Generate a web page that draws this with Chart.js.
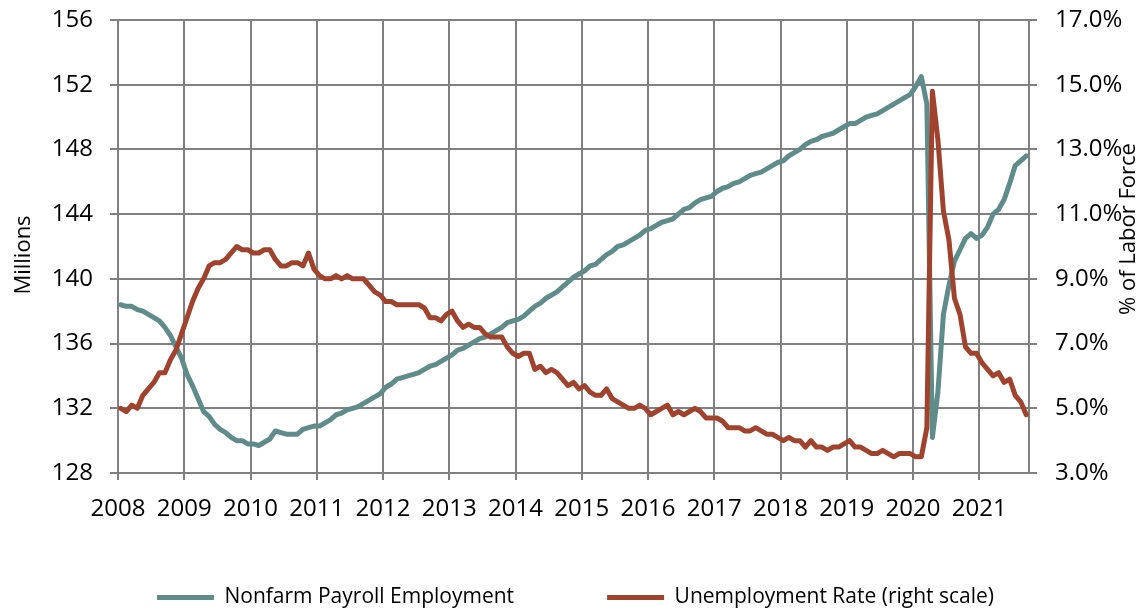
<!DOCTYPE html>
<html>
<head>
<meta charset="utf-8">
<script src="https://cdn.jsdelivr.net/npm/chart.js@4.4.1/dist/chart.umd.min.js"></script>
<style>
  html, body { margin: 0; padding: 0; background: #fff; }
  #chart { display: block; }
</style>
</head>
<body>
<canvas id="chart" width="1141" height="611"></canvas>
<script>
// monthly, Jan 2008 - Sep 2021
const startYear = 2008;

const yearTicks = [2008, 2009, 2010, 2011, 2012, 2013, 2014, 2015, 2016, 2017, 2018, 2019, 2020, 2021];

// Nonfarm payroll employment, millions
const payroll = [
    138.4, 138.3, 138.3, 138.1, 138.0, 137.8, 137.6, 137.4, 137.0, 136.5, 135.8, 135.1,
    134.1, 133.4, 132.6, 131.8, 131.5, 131.0, 130.7, 130.5, 130.2, 130.0, 130.0, 129.8,
    129.8, 129.7, 129.9, 130.1, 130.6, 130.5, 130.4, 130.4, 130.4, 130.7, 130.8, 130.9,
    130.9, 131.1, 131.3, 131.6, 131.7, 131.9, 132.0, 132.1, 132.3, 132.5, 132.7, 132.9,
    133.3, 133.5, 133.8, 133.9, 134.0, 134.1, 134.2, 134.4, 134.6, 134.7, 134.9, 135.1,
    135.3, 135.6, 135.7, 135.9, 136.1, 136.3, 136.4, 136.6, 136.8, 137.0, 137.3, 137.4,
    137.5, 137.7, 138.0, 138.3, 138.5, 138.8, 139.0, 139.2, 139.5, 139.8, 140.1, 140.3,
    140.5, 140.8, 140.9, 141.2, 141.5, 141.7, 142.0, 142.1, 142.3, 142.5, 142.7, 143.0,
    143.1, 143.3, 143.5, 143.6, 143.7, 144.0, 144.3, 144.4, 144.7, 144.9, 145.0, 145.1,
    145.4, 145.6, 145.7, 145.9, 146.0, 146.2, 146.4, 146.5, 146.6, 146.8, 147.0, 147.2,
    147.3, 147.6, 147.8, 148.0, 148.3, 148.5, 148.6, 148.8, 148.9, 149.0, 149.2, 149.4,
    149.6, 149.6, 149.8, 150.0, 150.1, 150.2, 150.4, 150.6, 150.8, 151.0, 151.2, 151.4,
    151.9, 152.5, 150.8, 130.2, 133.0, 137.8, 139.6, 141.1, 141.8, 142.5, 142.8, 142.5,
    142.7, 143.2, 144.0, 144.3, 144.9, 145.9, 147.0, 147.3, 147.6
];

// Unemployment rate, % of labor force
const unemployment = [
    5.0, 4.9, 5.1, 5.0, 5.4, 5.6, 5.8, 6.1, 6.1, 6.5, 6.8, 7.3,
    7.8, 8.3, 8.7, 9.0, 9.4, 9.5, 9.5, 9.6, 9.8, 10.0, 9.9, 9.9,
    9.8, 9.8, 9.9, 9.9, 9.6, 9.4, 9.4, 9.5, 9.5, 9.4, 9.8, 9.3,
    9.1, 9.0, 9.0, 9.1, 9.0, 9.1, 9.0, 9.0, 9.0, 8.8, 8.6, 8.5,
    8.3, 8.3, 8.2, 8.2, 8.2, 8.2, 8.2, 8.1, 7.8, 7.8, 7.7, 7.9,
    8.0, 7.7, 7.5, 7.6, 7.5, 7.5, 7.3, 7.2, 7.2, 7.2, 6.9, 6.7,
    6.6, 6.7, 6.7, 6.2, 6.3, 6.1, 6.2, 6.1, 5.9, 5.7, 5.8, 5.6,
    5.7, 5.5, 5.4, 5.4, 5.6, 5.3, 5.2, 5.1, 5.0, 5.0, 5.1, 5.0,
    4.8, 4.9, 5.0, 5.1, 4.8, 4.9, 4.8, 4.9, 5.0, 4.9, 4.7, 4.7,
    4.7, 4.6, 4.4, 4.4, 4.4, 4.3, 4.3, 4.4, 4.3, 4.2, 4.2, 4.1,
    4.0, 4.1, 4.0, 4.0, 3.8, 4.0, 3.8, 3.8, 3.7, 3.8, 3.8, 3.9,
    4.0, 3.8, 3.8, 3.7, 3.6, 3.6, 3.7, 3.6, 3.5, 3.6, 3.6, 3.6,
    3.5, 3.5, 4.4, 14.8, 13.3, 11.1, 10.2, 8.4, 7.9, 6.9, 6.7, 6.7,
    6.4, 6.2, 6.0, 6.1, 5.8, 5.9, 5.4, 5.2, 4.8
];

const seriesNames = ['Nonfarm Payroll Employment', 'Unemployment Rate (right scale)'];
const axisTitles = ['Millions', '% of Labor Force'];

const tealColor = '#5F8C89';
const redColor = '#A0432E';
const gridColor = '#808080';
const fontFamily = "'Open Sans', 'Liberation Sans', sans-serif";

const legendGap = 93;

// each month sits in the middle of its slot
const toPoints = arr => arr.map((v, i) => ({ x: startYear + (i + 0.5) / 12, y: v }));

// both axis titles read bottom-to-top
const axisTitlePlugin = {
    id: 'axisTitles',
    afterDraw(chart) {
        const ctx = chart.ctx;
        const put = (text, x, y) => {
            ctx.save();
            ctx.translate(x, y);
            ctx.rotate(-Math.PI / 2);
            ctx.font = '22px ' + fontFamily;
            ctx.fillStyle = '#000';
            ctx.textAlign = 'center';
            ctx.textBaseline = 'middle';
            ctx.fillText(text, 0, 0);
            ctx.restore();
        };
        put(axisTitles[0], 24, 255);
        put(axisTitles[1], 1129, 229);
    }
};

// wide gap between legend items but not a tall legend box:
// keep the box short, then pull its top up so the row lands near the bottom
const legendHeight = {
    id: 'legendHeight',
    beforeInit(chart) {
        const fit = chart.legend.fit;
        chart.legend.fit = function () {
            fit.bind(chart.legend)();
            this.height = 78;
        };
    },
    afterLayout(chart) {
        chart.legend.top = 587 - legendGap;
    }
};

// y axes: no extra label padding above/below, layout padding decides
const noVPad = scale => {
    scale.paddingTop = 0;
    scale.paddingBottom = 0;
};

const ctx = document.getElementById('chart');

new Chart(ctx, {

    type: 'line',

    data: {
        datasets: [{
            label: seriesNames[0],
            data: toPoints(payroll),
            yAxisID: 'y',
            borderColor: tealColor,
            backgroundColor: tealColor,
            borderWidth: 5,
            pointRadius: 0,
            tension: 0,
            borderJoinStyle: 'round',
            borderCapStyle: 'round',
            order: 2
        }, {
            label: seriesNames[1],
            data: toPoints(unemployment),
            yAxisID: 'y1',
            borderColor: redColor,
            backgroundColor: redColor,
            borderWidth: 5,
            pointRadius: 0,
            tension: 0,
            borderJoinStyle: 'round',
            borderCapStyle: 'round',
            order: 1
        }]
    },

    options: {
        responsive: false,
        animation: false,
        devicePixelRatio: 1,

        layout: {
            padding: { top: 20, left: 10, right: 0, bottom: 0 }
        },

        plugins: {
            tooltip: { enabled: false },
            legend: {
                position: 'bottom',
                labels: {
                    boxWidth: 57,
                    boxHeight: 5,
                    padding: legendGap,
                    color: '#000',
                    font: { family: fontFamily, size: 21 },
                    useBorderRadius: true,
                    borderRadius: 2.5,
                    generateLabels(chart) {
                        return chart.data.datasets.map((ds, i) => ({
                            text: ds.label,
                            fillStyle: ds.borderColor,
                            strokeStyle: ds.borderColor,
                            lineWidth: 0,
                            datasetIndex: i
                        }));
                    }
                }
            }
        },

        scales: {
            x: {
                type: 'linear',
                min: startYear,
                max: startYear + payroll.length / 12,
                afterBuildTicks(scale) {
                    scale.ticks = yearTicks.map(v => ({ value: v }));
                },
                afterFit(scale) {
                    scale.height = 60;
                },
                ticks: {
                    autoSkip: false,
                    maxRotation: 0,
                    color: '#000',
                    padding: 15,
                    font: { family: fontFamily, size: 24 },
                    callback: v => String(v)
                },
                grid: {
                    color: gridColor,
                    lineWidth: 2,
                    tickLength: 7
                },
                border: { display: true, color: gridColor, width: 2 }
            },

            y: {
                position: 'left',
                min: 128,
                max: 156,
                afterFit(scale) {
                    scale.width = 108;
                    noVPad(scale);
                },
                ticks: {
                    stepSize: 4,
                    color: '#000',
                    padding: 17,
                    font: { family: fontFamily, size: 24 }
                },
                grid: {
                    color: gridColor,
                    lineWidth: 2,
                    tickLength: 8
                },
                border: { display: true, color: gridColor, width: 2 }
            },

            y1: {
                position: 'right',
                min: 3,
                max: 17,
                afterFit(scale) {
                    scale.width = 112;
                    noVPad(scale);
                },
                ticks: {
                    stepSize: 2,
                    color: '#000',
                    padding: 18,
                    font: { family: fontFamily, size: 24 },
                    callback: v => v.toFixed(1) + '%'
                },
                grid: {
                    drawOnChartArea: false,
                    color: gridColor,
                    lineWidth: 2,
                    tickLength: 8
                },
                border: { display: true, color: gridColor, width: 2 }
            }
        }
    },

    plugins: [axisTitlePlugin, legendHeight]
});
</script>
</body>
</html>
